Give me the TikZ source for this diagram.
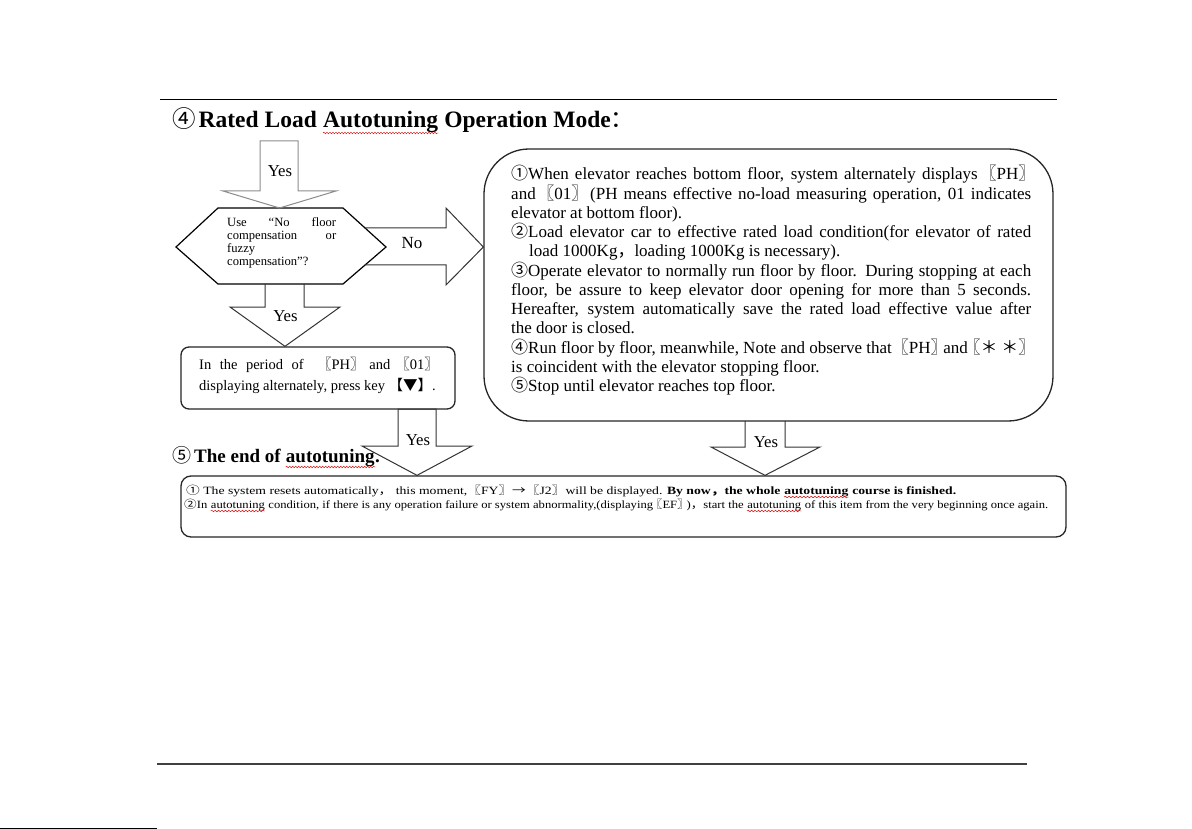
\documentclass[tikz,border=0pt]{standalone}
\usepackage{fontspec}
\setmainfont{Liberation Serif}
\newfontfamily\cj{Noto Sans CJK SC}
\usetikzlibrary{decorations.pathmorphing}
\newcommand\rw[2][3]{\tikz[baseline=(wt.base)]{\node[inner sep=0pt, anchor=base] (wt) {#2};
  \draw[red!85!black, line width=0.45pt, decorate, decoration={snake, amplitude=0.8pt, segment length=3pt}]
    ([yshift=-#1pt]wt.base west) -- ([yshift=-#1pt]wt.base east);}}
\newcommand\jl[2]{\makebox[#1][s]{#2}}
\newsavebox\fitbox
\newcommand\fitw[2]{\sbox\fitbox{#2}\pgfmathsetmacro\fitsc{#1/\wd\fitbox}\scalebox{\fitsc}[1]{\usebox\fitbox}}
\newcommand\lb{\hspace{-0.25em}{\cj 〖}}
\newcommand\rb{{\cj 〗}\hspace{-0.25em}}
\tikzset{
  boxline/.style={draw=black!85, line width=1.3pt},
  fatarrow/.style={draw=black!80, line width=1pt, line join=miter},
  fatgray/.style={draw=black!45, line width=1pt, line join=miter},
  lbl/.style={inner sep=0pt, font=\fontsize{16.7}{19}\selectfont},
  mline/.style={inner sep=0pt, anchor=base west, font=\fontsize{17}{19}\selectfont},
  hline/.style={inner sep=0pt, anchor=base west, font=\fontsize{12.6}{13}\selectfont},
  sline/.style={inner sep=0pt, anchor=base west, font=\fontsize{14.5}{17}\selectfont},
  bline/.style={inner sep=0pt, anchor=base west, font=\fontsize{11.1}{13}\selectfont},
}
\begin{document}
\begin{tikzpicture}[x=1pt,y=-1pt]
\useasboundingbox (0,0) rectangle (1192,829);
\fill[white] (0,0) rectangle (1192,829);

% rules
\coordinate (r1a) at (160,100); \coordinate (r1b) at (1057,100);
\draw[line width=1pt] (r1a) -- (r1b);
\coordinate (r2a) at (157,764); \coordinate (r2b) at (1027,764);
\draw[line width=1.6pt, black!75] (r2a) -- (r2b);
\coordinate (r3a) at (0,828); \coordinate (r3b) at (157,828);
\draw[line width=1pt] (r3a) -- (r3b);

% titles
\node[inner sep=0pt, anchor=base west, font=\fontsize{23.5}{26}\selectfont] (title1) at (172,128)
  {{\cj ④}\hspace{3pt}\textbf{Rated Load \rw[5]{Autotuning} Operation Mode}{\cj ：}};
\node[inner sep=0pt, anchor=base west, font=\fontsize{19}{22}\selectfont] (title2) at (172,462)
  {{\cj ⑤}\hspace{3pt}\textbf{The end of \rw[5]{autotuning}.}};

% main box
\node[boxline, rounded corners=45pt, minimum width=569pt, minimum height=272pt, inner sep=0pt] (mainbox) at (768.5,285) {};
\node[mline] (m1) at (511,180) {\jl{520pt}{{\cj ①}When elevator reaches bottom floor, system alternately displays \lb PH\rb}};
\node[mline] (m2) at (511,199.25) {\jl{520pt}{and \lb 01\rb\ (PH means effective no-load measuring operation, 01 indicates}};
\node[mline] (m3) at (511,218.5) {elevator at bottom floor).};
\node[mline] (m4) at (511,237.75) {\jl{520pt}{{\cj ②}Load elevator car to effective rated load condition(for elevator of rated}};
\node[mline] (m5) at (529,257) {load 1000Kg{\cj ，}loading 1000Kg is necessary).};
\node[mline] (m6) at (511,276.25) {\jl{520pt}{{\cj ③}Operate elevator to normally run floor by floor. During stopping at each}};
\node[mline] (m7) at (511,295.5) {\jl{520pt}{floor, be assure to keep elevator door opening for more than 5 seconds.}};
\node[mline] (m8) at (511,314.75) {\jl{520pt}{Hereafter, system automatically save the rated load effective value after}};
\node[mline] (m9) at (511,334) {the door is closed.};
\node[mline] (m10) at (511,353.25) {\jl{520pt}{{\cj ④}Run floor by floor, meanwhile, Note and observe that \lb PH\rb and\lb{\cj ＊ ＊}\rb}};
\node[mline] (m11) at (511,372.5) {is coincident with the elevator stopping floor.};
\node[mline] (m12) at (511,391.75) {{\cj ⑤}Stop until elevator reaches top floor.};

% hexagon decision
\coordinate (h1) at (218,208); \coordinate (h2) at (343,208); \coordinate (h3) at (386,247);
\coordinate (h4) at (343,284); \coordinate (h5) at (218,284); \coordinate (h6) at (176,247);
\draw[line width=1.2pt] (h1) -- (h2) -- (h3) -- (h4) -- (h5) -- (h6) -- cycle;
\node[hline] (q1) at (227,226.5) {\jl{109pt}{Use ``No floor}};
\node[hline] (q2) at (227,239.5) {\jl{109pt}{compensation or}};
\node[hline] (q3) at (227,252.5) {fuzzy};
\node[hline] (q4) at (227,265.5) {compensation''?};

% left box
\node[boxline, rounded corners=8pt, minimum width=274pt, minimum height=62pt, inner sep=0pt] (leftbox) at (318,378) {};
\node[sline] (s1) at (199,369.5) {\jl{236pt}{In the period of \ \lb PH\rb\ and \lb 01\rb}};
\node[sline] (s2) at (199,390) {displaying alternately, press key {\cj 【▼】}.};

% bottom box
\node[boxline, rounded corners=10pt, minimum width=885pt, minimum height=61pt, inner sep=0pt] (endbox) at (623.5,506.5) {};
\node[bline] (e1) at (186,494.5) {\fitw{770}{{\cj ①} The system resets automatically{\cj ，} this moment, \lb FY\rb\ {\cj →} \lb J2\rb\ will be displayed. \textbf{By now{\cj ，}the whole \rw[2.5]{autotuning} course is finished.}}};
\node[bline] (e2) at (184,508.5) {\fitw{864}{{\cj ②}In \rw[2.5]{autotuning} condition, if there is any operation failure or system abnormality,(displaying\lb EF\rb){\cj ，}start the \rw[2.5]{autotuning} of this item from the very beginning once again.}};

% fat arrows
\coordinate (a1) at (260,141);
\draw[fatgray] (a1) -- (260,191) -- (223,191) -- (279.5,208) -- (336,191) -- (298,191) -- (298,141) -- cycle;
\node[lbl] (y1) at (280,171) {Yes};

\draw[fatarrow] (365,228) -- (446,228) -- (446,208) -- (mainbox.west |- h3) -- (446,285) -- (446,265) -- (365,265);
\node[lbl, font=\fontsize{17}{19}\selectfont] (no) at (412,243) {No};

\draw[fatarrow] (265,284) -- (265,307) -- (230,307) -- (leftbox.north -| 285,0) -- (340,307) -- (304,307) -- (304,284);
\node[lbl] (y2) at (285.5,316) {Yes};

\draw[fatarrow] (398,409) -- (398,446) -- (362,446) -- (endbox.north -| 417,0) -- (472,446) -- (436,446) -- (436,409) -- cycle;
\node[lbl] (y3) at (418,440) {Yes};

\draw[fatarrow] (745,421) -- (745,447) -- (711,447) -- (endbox.north -| 765,0) -- (820,447) -- (785,447) -- (785,421);
\node[lbl] (y4) at (766,442) {Yes};
\end{tikzpicture}
\end{document}
